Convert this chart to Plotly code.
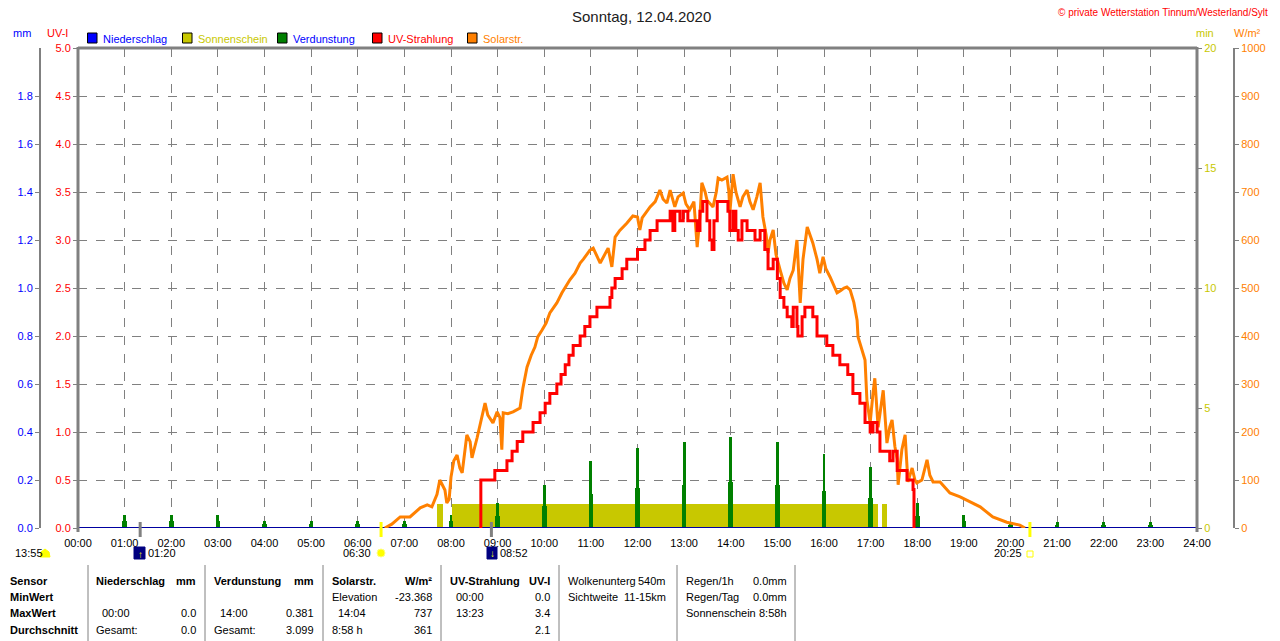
import plotly.graph_objects as go

# ============================================================
# DATEN (Zeit in Stunden, 0-24)
# ============================================================

titel = "Sonntag, 12.04.2020"
copyright_text = "© private Wetterstation Tinnum/Westerland/Sylt"

stunden_ticks = list(range(25))
stunden_text = [f"{h:02d}:00" for h in stunden_ticks]

# Solarstrahlung W/m²
solar_stunde = [
    6.58, 6.73, 6.91, 7.12, 7.34, 7.49, 7.59, 7.70, 7.76, 7.87, 7.91, 7.96,
    8.00, 8.06, 8.13, 8.19, 8.24, 8.34, 8.41, 8.45, 8.56, 8.64, 8.73, 8.79,
    8.90, 8.99, 9.05, 9.09, 9.12, 9.22, 9.33, 9.48, 9.54, 9.63, 9.72, 9.80,
    9.86, 9.95, 10.04, 10.12, 10.27, 10.38, 10.45, 10.55, 10.66, 10.77, 10.84, 10.98,
    11.05, 11.20, 11.37, 11.45, 11.52, 11.62, 11.77, 11.90, 12.00, 12.05, 12.10, 12.27,
    12.38, 12.48, 12.55, 12.63, 12.70, 12.80, 12.87, 12.98, 13.04, 13.12, 13.21, 13.28,
    13.34, 13.38, 13.45, 13.49, 13.62, 13.69, 13.73, 13.81, 13.92, 13.96, 13.98, 14.05,
    14.11, 14.20, 14.26, 14.35, 14.41, 14.48, 14.56, 14.63, 14.69, 14.76, 14.80, 14.84,
    14.91, 14.97, 15.06, 15.14, 15.21, 15.27, 15.34, 15.42, 15.49, 15.55, 15.64, 15.70,
    15.76, 15.85, 15.91, 15.98, 16.04, 16.13, 16.21, 16.28, 16.36, 16.43, 16.49, 16.56,
    16.64, 16.71, 16.73, 16.79, 16.88, 16.92, 16.99, 17.05, 17.09, 17.16, 17.22, 17.27,
    17.35, 17.41, 17.46, 17.52, 17.57, 17.59, 17.67, 17.74, 17.80, 17.89, 17.95, 17.99,
    18.10, 18.21, 18.27, 18.34, 18.49, 18.70, 18.92, 19.07, 19.24, 19.35, 19.62, 19.92,
    20.20, 20.31
]
solar_wm2 = [
    0, 8, 23, 23, 42, 48, 44, 70, 100, 79, 52, 60,
    106, 140, 152, 125, 115, 194, 180, 146, 188, 220, 260, 235,
    219, 242, 230, 163, 240, 238, 242, 250, 290, 335, 360, 377,
    398, 412, 427, 448, 469, 490, 502, 517, 531, 552, 560, 579,
    583, 552, 583, 544, 606, 620, 635, 650, 648, 621, 646, 669,
    680, 704, 685, 677, 704, 669, 690, 698, 675, 663, 680, 585,
    650, 719, 700, 683, 669, 700, 729, 725, 731, 700, 656, 737,
    700, 669, 690, 704, 680, 663, 690, 719, 648, 610, 573, 600,
    621, 570, 537, 510, 496, 520, 537, 600, 469, 560, 627, 610,
    594, 560, 531, 565, 540, 523, 505, 490, 495, 500, 502, 496,
    470, 433, 398, 380, 350, 267, 219, 280, 312, 210, 250, 287,
    177, 210, 225, 170, 142, 90, 163, 194, 96, 125, 100, 94,
    100, 142, 110, 96, 96, 73, 65, 58, 50, 44, 23, 12,
    6, 0
]

# UV-Strahlung UV-I (Treppenkurve)
uv_stunde = [
    8.64, 8.64, 8.94, 9.20, 9.31, 9.42, 9.54, 9.76, 9.91, 10.02, 10.12, 10.27,
    10.36, 10.45, 10.53, 10.62, 10.77, 10.87, 10.98, 11.13, 11.41, 11.45, 11.52, 11.67,
    11.77, 12.00, 12.16, 12.27, 12.42, 12.70, 12.76, 12.80, 12.91, 12.98, 13.08, 13.28,
    13.34, 13.40, 13.49, 13.55, 13.60, 13.64, 13.71, 13.94, 13.98, 14.05, 14.11, 14.16,
    14.24, 14.35, 14.52, 14.63, 14.73, 14.80, 14.91, 15.00, 15.06, 15.14, 15.21, 15.31,
    15.34, 15.42, 15.44, 15.53, 15.59, 15.76, 15.85, 16.06, 16.19, 16.34, 16.51, 16.62,
    16.77, 16.88, 16.99, 17.05, 17.14, 17.20, 17.41, 17.48, 17.57, 17.78, 17.91, 17.93
]
uv_wert = [
    0.0, 0.5, 0.6, 0.7, 0.8, 0.9, 1.0, 1.1, 1.2, 1.3, 1.4, 1.5,
    1.6, 1.7, 1.8, 1.9, 2.0, 2.1, 2.2, 2.3, 2.4, 2.5, 2.6, 2.7,
    2.8, 2.9, 3.0, 3.1, 3.2, 3.3, 3.1, 3.3, 3.2, 3.3, 3.2, 3.1,
    3.3, 3.4, 3.2, 3.0, 2.9, 3.2, 3.4, 3.3, 3.1, 3.3, 3.1, 3.0,
    3.2, 3.1, 3.0, 3.1, 2.9, 2.7, 2.8, 2.6, 2.4, 2.3, 2.2, 2.1,
    2.3, 2.1, 2.0, 2.2, 2.3, 2.2, 2.0, 1.9, 1.8, 1.7, 1.6, 1.4,
    1.3, 1.1, 1.0, 1.1, 1.0, 0.8, 0.7, 0.8, 0.6, 0.5, 0.4, 0.0
]

# Verdunstung mm (stündliche Spitzen)
verdunstung_stunde = [1, 2, 3, 4, 5, 6, 7, 8, 9, 10, 11, 12,
                      13, 14, 15, 16, 17, 18, 19, 20, 21, 22, 23]
verdunstung_spitze = [0.054, 0.054, 0.054, 0.030, 0.030, 0.030, 0.030, 0.055, 0.104, 0.180, 0.280, 0.333,
                      0.358, 0.381, 0.358, 0.308, 0.254, 0.104, 0.054, 0.025, 0.025, 0.025, 0.025]
verdunstung_sockel = [0.030, 0.030, 0.030, 0.015, 0.015, 0.015, 0.015, 0.030, 0.050, 0.090, 0.140, 0.167,
                      0.180, 0.190, 0.180, 0.155, 0.125, 0.050, 0.030, 0.012, 0.012, 0.012, 0.012]

# Niederschlag mm
niederschlag_stunde = [0, 3, 6, 9, 12, 15, 18, 21, 24]
niederschlag_mm = [0.0, 0.0, 0.0, 0.0, 0.0, 0.0, 0.0, 0.0, 0.0]

# Sonnenschein (Minuten je Minute)
sonne_start = [7.70, 8.02, 17.25]
sonne_ende = [7.83, 17.15, 17.35]
sonne_min = [1.0, 1.0, 1.0]

# Astronomie
tageslaenge = "13:55"
mondaufgang = "01:20"
sonnenaufgang = "06:30"
monduntergang = "08:52"
sonnenuntergang = "20:25"

# ============================================================
# FARBEN / HILFSFUNKTIONEN
# ============================================================

BLAU = "#0000FF"
GELB = "#C8C800"
GRUEN = "#008000"
ROT = "#FF0000"
ORANGE = "#FF8000"
GRAU = "#808080"
FONT = "Liberation Sans"

# die Seite hat 8px Rand, Koordinaten unten sind Bildschirm-Pixel
RAND = 8
W, H = 1280 - RAND, 641 - RAND
PL, PR, PT, PB = 78, 1197, 48, 528   # Plotfläche auf dem Bildschirm
ML, MR, MT, MB = 2, 2, PT - RAND, H - (PB - RAND)
PW = W - ML - MR
PH = H - MT - MB


def fx(x):
    return (x - RAND - ML) / PW


def fy(y):
    return (PB - y) / PH


def zeit_h(s):
    h, m = s.split(":")
    return int(h) + int(m) / 60


annotations = []
shapes = []


def txt(x, y, s, color="black", anchor="left", size=11, bold=False):
    annotations.append(dict(
        x=fx(x), y=fy(y), xref="paper", yref="paper", text=f"<b>{s}</b>" if bold else s,
        showarrow=False, xanchor=anchor, yanchor="middle",
        font=dict(family=FONT, size=size, color=color)
    ))


def linie(x0, y0, x1, y1, color=GRAU, width=1):
    shapes.append(dict(type="line", xref="paper", yref="paper",
                       x0=fx(x0), y0=fy(y0), x1=fx(x1), y1=fy(y1),
                       line=dict(color=color, width=width)))


def rechteck(x0, y0, x1, y1, fill, line="black", typ="rect"):
    shapes.append(dict(type=typ, xref="paper", yref="paper",
                       x0=fx(x0), y0=fy(y0), x1=fx(x1), y1=fy(y1),
                       fillcolor=fill, line=dict(color=line, width=1)))


# ============================================================
# FIGUR
# ============================================================

fig = go.Figure()

# Sonnenschein (y, min)
fig.add_trace(go.Bar(
    x=[(a + b) / 2 for a, b in zip(sonne_start, sonne_ende)],
    y=sonne_min,
    width=[b - a for a, b in zip(sonne_start, sonne_ende)],
    marker=dict(color=GELB, line=dict(width=0)),
    yaxis="y", name="Sonnenschein"
))

# Verdunstung (y2, mm)
fig.add_trace(go.Bar(
    x=verdunstung_stunde, y=verdunstung_sockel, width=0.10,
    marker=dict(color=GRUEN, line=dict(width=0)), yaxis="y2", name="Verdunstung"
))
fig.add_trace(go.Bar(
    x=verdunstung_stunde, y=verdunstung_spitze, width=0.06,
    marker=dict(color=GRUEN, line=dict(width=0)), yaxis="y2", name="Verdunstung"
))

# Niederschlag (y2, mm)
fig.add_trace(go.Scatter(
    x=niederschlag_stunde, y=niederschlag_mm, mode="lines",
    line=dict(color="#0000A0", width=2), yaxis="y2", name="Niederschlag"
))

# Solarstrahlung (y3, W/m²)
fig.add_trace(go.Scatter(
    x=solar_stunde, y=solar_wm2, mode="lines",
    line=dict(color=ORANGE, width=3), yaxis="y3", name="Solarstr."
))

# UV-Strahlung (y4, UV-I)
fig.add_trace(go.Scatter(
    x=uv_stunde, y=uv_wert, mode="lines", line_shape="hv",
    line=dict(color=ROT, width=3), yaxis="y4", name="UV-Strahlung"
))

achse = dict(
    showgrid=False, zeroline=False, ticks="outside", ticklen=4,
    tickcolor=GRAU, tickwidth=1, fixedrange=True, automargin=False
)

fig.update_layout(
    width=W, height=H,
    margin=dict(l=ML, r=MR, t=MT, b=MB, autoexpand=False),
    paper_bgcolor="white", plot_bgcolor="white",
    showlegend=False, barmode="overlay", bargap=0,
    font=dict(family=FONT, size=11, color="black"),
    xaxis=dict(
        domain=[fx(PL), fx(PR)], range=[0, 24],
        tickvals=stunden_ticks, ticktext=stunden_text,
        showgrid=True, gridcolor=GRAU, griddash="dash", gridwidth=1,
        zeroline=False, ticks="", showline=False, automargin=False,
        ticklabelstandoff=7,
        tickfont=dict(family=FONT, size=11, color="black")
    ),
    yaxis=dict(
        achse, range=[0, 20], side="right", anchor="x",
        tickvals=[0, 5, 10, 15, 20], ticktext=["0", "5", "10", "15", "20"],
        tickfont=dict(family=FONT, size=11, color=GELB)
    ),
    yaxis2=dict(
        achse, range=[0, 2.0], overlaying="y", side="left", anchor="free",
        position=fx(40), showline=True, linecolor=GRAU, linewidth=2,
        tickvals=[0, 0.2, 0.4, 0.6, 0.8, 1.0, 1.2, 1.4, 1.6, 1.8],
        ticktext=["0.0", "0.2", "0.4", "0.6", "0.8", "1.0", "1.2", "1.4", "1.6", "1.8"],
        tickfont=dict(family=FONT, size=11, color=BLAU)
    ),
    yaxis3=dict(
        achse, range=[0, 1000], overlaying="y", side="right", anchor="free",
        position=fx(1234), showline=True, linecolor=GRAU, linewidth=2,
        tickvals=list(range(0, 1001, 100)),
        tickfont=dict(family=FONT, size=11, color=ORANGE)
    ),
    yaxis4=dict(
        achse, range=[0, 5.0], overlaying="y", side="left", anchor="x",
        tickvals=[0, 0.5, 1.0, 1.5, 2.0, 2.5, 3.0, 3.5, 4.0, 4.5, 5.0],
        ticktext=["0.0", "0.5", "1.0", "1.5", "2.0", "2.5", "3.0", "3.5", "4.0", "4.5", "5.0"],
        showgrid=True, gridcolor=GRAU, griddash="dash", gridwidth=1,
        tickfont=dict(family=FONT, size=11, color=ROT)
    ),
)

# Rahmen des Diagramms
linie(PL, PT, PR, PT, width=3)
linie(PL, PT - 1, PL, PB + 4, width=3)
linie(PR, PT - 1, PR, PB + 4, width=3)

# Achsentitel
txt(22, 33, "mm", BLAU, "center")
txt(57, 33, "UV-I", ROT, "center")
txt(1205, 33, "min", GELB, "center")
txt(1247, 33, "W/m²", ORANGE, "center")

# Titel und Copyright
txt(641, 16.5, titel, "#202020", "center", size=15)
txt(1270, 13, copyright_text, ROT, "right", size=10)

# Legende
legende = [
    ("Niederschlag", BLAU, BLAU),
    ("Sonnenschein", GELB, GELB),
    ("Verdunstung", GRUEN, BLAU),
    ("UV-Strahlung", ROT, ROT),
    ("Solarstr.", ORANGE, ORANGE),
]
for i, (name, farbe, textfarbe) in enumerate(legende):
    x0 = 87.5 + i * 95
    rechteck(x0, 33, x0 + 9.5, 43, farbe)
    txt(x0 + 13, 38.5, name, textfarbe)

# Astronomische Markierungen unter der Zeitachse
for s, farbe in [(mondaufgang, GRAU), (monduntergang, GRAU),
                 (sonnenaufgang, "#FFFF00"), (sonnenuntergang, "#FFFF00")]:
    xs = PL + zeit_h(s) * (PR - PL) / 24
    linie(xs, 522, xs, 537, color=farbe, width=3)

txt(13, 553, tageslaenge)
shapes.append(dict(type="path", xref="paper", yref="paper",
                   path=f"M {fx(40)},{fy(557)} L {fx(41)},{fy(552)} L {fx(45)},{fy(549)} "
                        f"L {fx(49)},{fy(552)} L {fx(50)},{fy(557)} Z",
                   fillcolor="#FFFF00", line=dict(color="#FFFF00", width=1)))

rechteck(134, 547, 145, 559, "#000080", "#000080")
txt(140, 554, "↑", "#FFFF00", "center", size=10, bold=True)
txt(146, 553, mondaufgang)

txt(373, 553, sonnenaufgang, anchor="right")
rechteck(377, 549, 385, 557, "#FFFF00", "#FFFF80", typ="circle")

rechteck(487, 547, 497, 559, "#000080", "#000080")
txt(492, 553, "↓", "#FFFF00", "center", size=10, bold=True)
txt(498, 553, monduntergang)

txt(1024, 553, sonnenuntergang, anchor="right")
rechteck(1027, 551, 1033, 557, "white", "#FFFF00")

# ============================================================
# TABELLE UNTEN
# ============================================================

zeilen_y = [581, 597, 613, 630]
for y, s in zip(zeilen_y, ["Sensor", "MinWert", "MaxWert", "Durchschnitt"]):
    txt(8, y, s, bold=True)

for x in [88, 205, 323, 441, 559, 677, 795]:
    linie(x, 565, x, 641)

bloecke = [
    (94, 198, ("Niederschlag", "mm"), [("", ""), (" 00:00", "0.0"), ("Gesamt:", "0.0")]),
    (212, 316, ("Verdunstung", "mm"), [("", ""), (" 14:00", "0.381"), ("Gesamt:", "3.099")]),
    (330, 434, ("Solarstr.", "W/m²"), [("Elevation", "-23.368"), (" 14:04", "737"), ("8:58 h", "361")]),
    (448, 552, ("UV-Strahlung", "UV-I"), [(" 00:00", "0.0"), (" 13:23", "3.4"), ("", "2.1")]),
]
for xl, xr, kopf, zeilen in bloecke:
    txt(xl, zeilen_y[0], kopf[0], bold=True)
    txt(xr, zeilen_y[0], kopf[1], anchor="right", bold=True)
    for y, (links, rechts) in zip(zeilen_y[1:], zeilen):
        einzug = 6 if links.startswith(" ") else 0
        txt(xl + einzug, y, links.strip())
        txt(xr, y, rechts, anchor="right")

extras = [
    (566, 668, [("Wolkenunterg", "540m"), ("Sichtweite", "11-15km")]),
    (684, 789, [("Regen/1h", "0.0mm"), ("Regen/Tag", "0.0mm"), ("Sonnenschein", "8:58h")]),
]
for xl, xr, zeilen in extras:
    for y, (links, rechts) in zip(zeilen_y, zeilen):
        txt(xl, y, links)
        txt(xr, y, rechts, anchor="right")

fig.update_layout(annotations=annotations, shapes=shapes)

fig.write_html("out.html")
